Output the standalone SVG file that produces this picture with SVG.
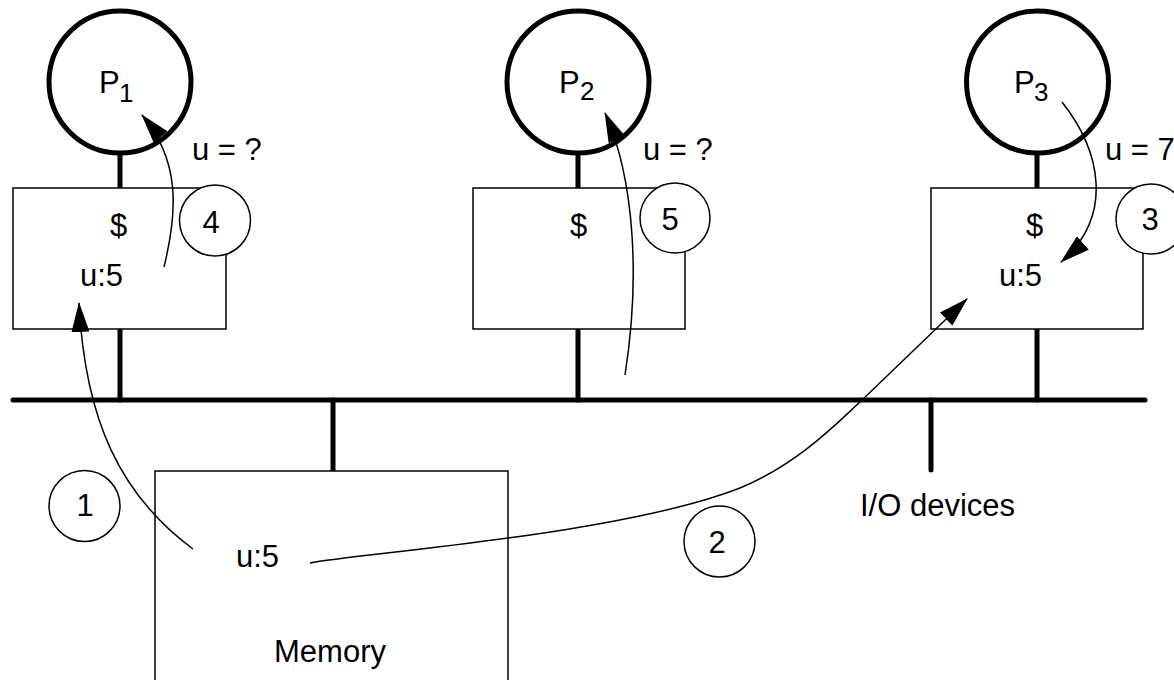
<svg xmlns="http://www.w3.org/2000/svg" width="1174" height="680" viewBox="0 0 1174 680">
<style>
  text { font-family: "Liberation Sans", Arial, sans-serif; font-size: 31px; fill: #000; }
  .sub { font-size: 26px; }
  .num { text-anchor: middle; }
  .thick { stroke: #000; stroke-width: 5; fill: none; stroke-linecap: round; }
  .proc { stroke: #000; stroke-width: 5; fill: #fff; }
  .box { stroke: #000; stroke-width: 1.5; fill: #fff; }
  .step { stroke: #000; stroke-width: 1.5; fill: #fff; }
  .conn { stroke: #000; stroke-width: 1.5; fill: none; marker-end: url(#arrow); }
</style>
<defs>
  <marker id="arrow" markerUnits="userSpaceOnUse" markerWidth="30" markerHeight="18" viewBox="0 0 30 18" refX="29" refY="9" orient="auto">
    <path d="M0,0 L30,9 L0,18 Z" fill="#000"/>
  </marker>
</defs>
<rect width="1174" height="680" fill="#fff"/>

<g id="bus">
  <line class="thick" x1="13" y1="400" x2="1145" y2="400"/>
</g>

<g id="cpu1">
  <line class="thick" x1="120" y1="150" x2="120" y2="400" stroke-linecap="butt"/>
  <rect class="box" x="13" y="188" width="213" height="141"/>
  <circle class="proc" cx="120" cy="82" r="71"/>
  <text x="99" y="93">P</text>
  <text class="sub" x="119" y="102">1</text>
  <text x="110" y="236">$</text>
  <text x="80" y="286">u:5</text>
</g>

<g id="cpu2">
  <line class="thick" x1="578" y1="150" x2="578" y2="400" stroke-linecap="butt"/>
  <rect class="box" x="473" y="188" width="212" height="141"/>
  <circle class="proc" cx="578" cy="82" r="71"/>
  <text x="559" y="93">P</text>
  <text class="sub" x="580" y="100">2</text>
  <text x="570" y="236">$</text>
</g>

<g id="cpu3">
  <line class="thick" x1="1037" y1="150" x2="1037" y2="400" stroke-linecap="butt"/>
  <rect class="box" x="931" y="188" width="212" height="141"/>
  <circle class="proc" cx="1037.5" cy="82" r="71"/>
  <text x="1014" y="93">P</text>
  <text class="sub" x="1034" y="101">3</text>
  <text x="1026" y="236">$</text>
  <text x="999" y="286">u:5</text>
</g>

<g id="memory">
  <line class="thick" x1="333" y1="400" x2="333" y2="471" stroke-linecap="butt"/>
  <rect class="box" x="155" y="471" width="353" height="300"/>
  <text x="236" y="567">u:5</text>
  <text x="274" y="662">Memory</text>
</g>

<g id="io">
  <line class="thick" x1="931" y1="400" x2="931" y2="470"/>
  <text x="860" y="516">I/O devices</text>
</g>

<g id="step1">
  <circle class="step" cx="84.5" cy="506" r="35.5"/>
  <text class="num" x="85" y="516">1</text>
</g>
<g id="step2">
  <circle class="step" cx="719.5" cy="541.5" r="35.5"/>
  <text class="num" x="717" y="553">2</text>
</g>
<g id="step3">
  <circle class="step" cx="1151" cy="219" r="35"/>
  <text class="num" x="1150" y="230">3</text>
</g>
<g id="step4">
  <circle class="step" cx="215" cy="220.5" r="35.5"/>
  <text class="num" x="211" y="233">4</text>
</g>
<g id="step5">
  <circle class="step" cx="675" cy="218" r="35"/>
  <text class="num" x="670" y="230">5</text>
</g>

<g id="labels">
  <text x="192" y="160">u = ?</text>
  <text x="643" y="160">u = ?</text>
  <text x="1105" y="160">u = 7</text>
</g>

<g id="connectors">
  <path class="conn" d="M193,549 C120,495 85,420 79,303"/>
  <path class="conn" d="M310,563 C360,553 620,535 740,488 C800,463 840,420 860,402 L967,299"/>
  <path class="conn" d="M1062,102 C1100,150 1115,215 1061,262"/>
  <path class="conn" d="M164,267 C178,210 180,160 142,115"/>
  <path class="conn" d="M625,375 C640,280 635,180 605,113"/>
</g>
</svg>
